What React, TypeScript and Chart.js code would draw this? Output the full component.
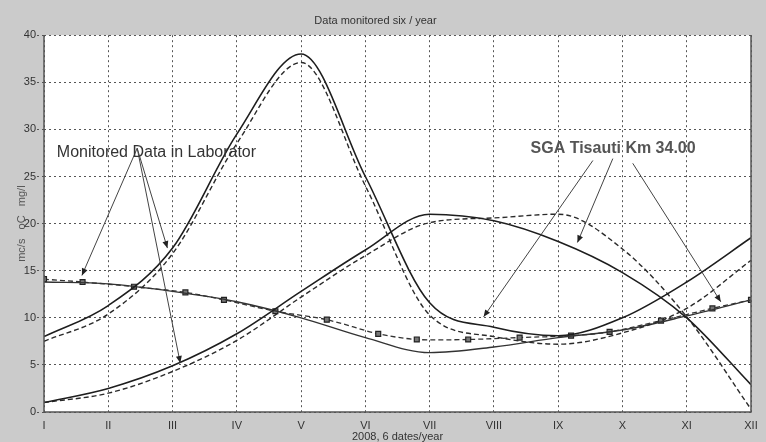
import React, { useEffect, useRef } from "react";
import { Chart, registerables } from "chart.js";

Chart.register(...registerables);

// ---- data ----
const monthLabels = ["I", "II", "III", "IV", "V", "VI", "VII", "VIII", "IX", "X", "XI", "XII"];
const months = [1, 2, 3, 4, 5, 6, 7, 8, 9, 10, 11, 12];

const seriesASolid = [8.0, 11.3, 17.4, 29.5, 38.0, 25.0, 11.6, 9.0, 8.1, 10.0, 13.8, 18.5];
const seriesADashed = [7.5, 10.4, 16.8, 28.5, 37.1, 24.0, 10.3, 8.0, 7.2, 8.4, 11.0, 16.1];
const seriesBSolid = [1.0, 2.5, 4.9, 8.3, 12.8, 17.2, 21.0, 20.3, 18.1, 14.8, 10.0, 2.9];
const seriesBDashed = [1.0, 2.0, 4.3, 7.6, 12.2, 16.6, 20.1, 20.6, 21.0, 17.3, 10.1, 0.3];
const seriesCSolid = [13.8, 13.6, 12.8, 11.7, 10.0, 7.9, 6.3, 6.9, 7.9, 8.7, 10.2, 11.9];
const labSampleMonths = [1.0, 1.6, 2.4, 3.2, 3.8, 4.6, 5.4, 6.2, 6.8, 7.6, 8.4, 9.2, 9.8, 10.6, 11.4, 12.0];
const labSampleValues = [14.1, 13.8, 13.3, 12.7, 11.9, 10.7, 9.8, 8.3, 7.7, 7.7, 7.9, 8.1, 8.5, 9.7, 11.0, 11.9];

const yTicks = [0, 5, 10, 15, 20, 25, 30, 35, 40];

const chartTitle = "Data monitored six / year";
const xTitle = "2008, 6 dates/year";
const yTitle = "mc/s   oC   mg/l";

// annotations (data units: month, value)
const labText = "Monitored Data in Laborator";
const labTextPos = [1.2, 27.5];
const labArrowFrom = [2.45, 28.0];
const labArrowTo = [
  [1.59, 14.5],
  [2.92, 17.4],
  [3.12, 5.2],
];
const sgaText = "SGA Tisauti Km 34.00";
const sgaTextPos = [8.57, 28.0];
const sgaArrowFrom = [
  [9.54, 26.7],
  [9.85, 26.9],
  [10.16, 26.4],
];
const sgaArrowTo = [
  [7.84, 10.1],
  [9.3, 18.0],
  [11.53, 11.7],
];

const FONT = "'Liberation Sans Narrow', 'Liberation Sans', Arial, sans-serif";

function toXY(xs: number[], ys: number[]) {
  return xs.map((x, i) => ({ x, y: ys[i] }));
}

export default function App() {
  const ref = useRef<HTMLCanvasElement | null>(null);

  useEffect(() => {
    if (!ref.current) return;

    const solid = (data: number[]) => ({
      data: toXY(months, data),
      borderColor: "#1e1e1e",
      borderWidth: 1.6,
      pointRadius: 0,
      fill: false,
      cubicInterpolationMode: "monotone" as const,
    });
    const dashed = (data: number[]) => ({
      data: toXY(months, data),
      borderColor: "#2a2a2a",
      borderWidth: 1.4,
      borderDash: [5, 3],
      pointRadius: 0,
      fill: false,
      cubicInterpolationMode: "monotone" as const,
    });

    const annotate = {
      id: "annotate",
      beforeDraw(chart: any) {
        const { ctx, chartArea: a } = chart;
        ctx.save();
        ctx.fillStyle = "#ffffff";
        ctx.fillRect(a.left, a.top, a.right - a.left, a.bottom - a.top);
        ctx.restore();
      },
      afterDraw(chart: any) {
        const { ctx, chartArea: a, scales } = chart;
        const px = (p: number[]) => [scales.x.getPixelForValue(p[0]), scales.y.getPixelForValue(p[1])];
        ctx.save();
        // frame
        ctx.strokeStyle = "#555";
        ctx.lineWidth = 1.5;
        ctx.beginPath();
        ctx.moveTo(a.left, a.top);
        ctx.lineTo(a.left, a.bottom);
        ctx.lineTo(a.right, a.bottom);
        ctx.lineTo(a.right, a.top);
        ctx.stroke();

        const arrow = (from: number[], to: number[]) => {
          const [x1, y1] = px(from);
          const [x2, y2] = px(to);
          ctx.strokeStyle = "#444";
          ctx.fillStyle = "#222";
          ctx.lineWidth = 1;
          ctx.beginPath();
          ctx.moveTo(x1, y1);
          ctx.lineTo(x2, y2);
          ctx.stroke();
          const ang = Math.atan2(y2 - y1, x2 - x1);
          const L = 7, W = 3;
          ctx.beginPath();
          ctx.moveTo(x2, y2);
          ctx.lineTo(x2 - L * Math.cos(ang) + W * Math.sin(ang), y2 - L * Math.sin(ang) - W * Math.cos(ang));
          ctx.lineTo(x2 - L * Math.cos(ang) - W * Math.sin(ang), y2 - L * Math.sin(ang) + W * Math.cos(ang));
          ctx.closePath();
          ctx.fill();
        };
        labArrowTo.forEach((t) => arrow(labArrowFrom, t));
        sgaArrowFrom.forEach((f, i) => arrow(f, sgaArrowTo[i]));

        ctx.textBaseline = "middle";
        ctx.textAlign = "left";
        ctx.fillStyle = "#333";
        ctx.font = "16px 'Liberation Sans', Arial, sans-serif";
        const [lx, ly] = px(labTextPos);
        ctx.fillText(labText, lx, ly);
        ctx.fillStyle = "#555";
        ctx.font = "bold 16px 'Liberation Sans', Arial, sans-serif";
        const [sx, sy] = px(sgaTextPos);
        ctx.fillText(sgaText, sx, sy);
        ctx.restore();
      },
    };

    const chart = new Chart(ref.current, {
      type: "line",
      data: {
        datasets: [
          solid(seriesASolid),
          dashed(seriesADashed),
          solid(seriesBSolid),
          dashed(seriesBDashed),
          { ...solid(seriesCSolid), borderColor: "#333", borderWidth: 1.4 },
          {
            data: toXY(labSampleMonths, labSampleValues),
            borderColor: "#333",
            borderWidth: 1.3,
            borderDash: [5, 3],
            fill: false,
            tension: 0.3,
            pointStyle: "rect",
            pointRadius: 3.5,
            pointBackgroundColor: "#777",
            pointBorderColor: "#222",
            pointBorderWidth: 1.2,
          },
        ],
      },
      options: {
        responsive: false,
        animation: false,
        layout: { padding: { left: 0, right: 15, top: 0, bottom: 0 } },
        plugins: {
          legend: { display: false },
          tooltip: { enabled: false },
          title: {
            display: true,
            text: chartTitle,
            color: "#333",
            font: { family: FONT, size: 11, weight: "normal" },
            padding: { top: 14, bottom: 8 },
          },
        },
        scales: {
          x: {
            type: "linear",
            min: 1,
            max: 12,
            afterFit: (s: any) => {
              s.height = 30;
            },
            afterBuildTicks: (s: any) => {
              s.ticks = months.map((m) => ({ value: m }));
            },
            ticks: {
              callback: (v: any) => monthLabels[Math.round(v) - 1] ?? "",
              color: "#333",
              font: { family: FONT, size: 11 },
              padding: 7,
              maxRotation: 0,
              autoSkip: false,
            },
            grid: {
              color: "#555",
              lineWidth: 1,
              drawTicks: false,
            },
            border: { display: false, dash: [2, 3] },
            title: {
              display: true,
              text: xTitle,
              color: "#333",
              font: { family: FONT, size: 11, lineHeight: 1 },
              padding: { top: 0, bottom: 0 },
            },
          },
          y: {
            min: 0,
            max: 40,
            afterFit: (s: any) => {
              s.width = 44;
            },
            afterBuildTicks: (s: any) => {
              s.ticks = yTicks.map((v) => ({ value: v }));
            },
            ticks: {
              color: "#333",
              font: { family: FONT, size: 11 },
              padding: 1,
            },
            grid: {
              color: "#555",
              lineWidth: 1,
              drawTicks: true,
              tickLength: 7,
              tickBorderDash: [2, 3],
              tickColor: "#555",
            },
            border: { display: false, dash: [2, 3] },
            title: {
              display: true,
              text: yTitle,
              color: "#555",
              font: { family: FONT, size: 11 },
              padding: { top: 15, bottom: 0 },
            },
          },
        },
      },
      plugins: [annotate],
    } as any);

    return () => chart.destroy();
  }, []);

  return (
    <div
      style={{
        position: "fixed",
        left: 0,
        top: 0,
        width: 766,
        height: 442,
        background: "#cbcbcb",
        overflow: "hidden",
      }}
    >
      <canvas ref={ref} width={766} height={442} style={{ display: "block" }} />
    </div>
  );
}
